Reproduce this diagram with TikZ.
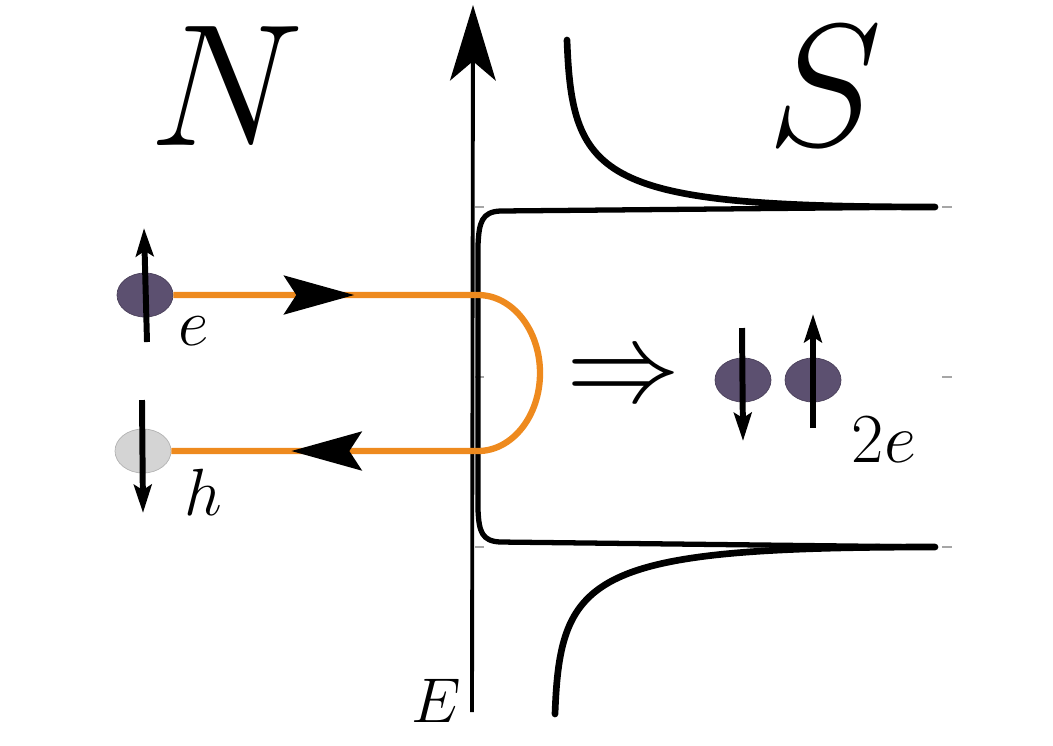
\documentclass[tikz,border=0pt]{standalone}
\usepackage{fix-cm}
\usetikzlibrary{arrows.meta,shapes.geometric,decorations.markings}
\definecolor{pairpurple}{HTML}{5C5070}
\definecolor{holegray}{HTML}{D4D4D4}
\definecolor{andreevorange}{HTML}{EE8A1E}
\tikzset{
  particle/.style={ellipse, minimum width=1.12cm, minimum height=0.88cm, inner sep=0pt},
  spin/.style={line width=3.4pt, -{Stealth[length=16pt,width=10pt,inset=3pt]}},
  bigtip/.tip={Stealth[length=40pt,width=22pt,inset=7pt]},
  dosline/.style={line width=3.8pt, line cap=round},
  tickmark/.style={gray!70, line width=0.6pt},
  lbl/.style={inner sep=0pt}
}
\begin{document}
\begin{tikzpicture}[x=0.02cm, y=-0.02cm]
                    \useasboundingbox (0,0) rectangle (1053,745);
                    % energy axis
                    \coordinate (axbot) at (472,712);
                    \coordinate (axtop) at (473,5);
                    \draw[line width=2.2pt, -{Stealth[length=43pt,width=26pt,inset=11pt]}] (axbot) -- (axtop);
                    \node[lbl] (Elabel) at (436,701) {\fontsize{36}{37}\selectfont $E$};
                    % ticks
                    \foreach \y in {207,377,547} {
                        \draw[tickmark] (475,\y) -- (484,\y);
                        \draw[tickmark] (942,\y) -- (952,\y);
                    }
                    % density of states
                    \draw[dosline] (567,40) .. controls (572,180) and (600,207) .. (935,207);
                    \draw[dosline] (935,547) .. controls (590,547) and (560,574) .. (555,714);
                    \draw[line width=3pt, line cap=round] (935,207) -- (500,211) .. controls (482,212) and (479,222) .. (478,245)
                        -- (478,510) .. controls (479,532) and (482,541) .. (500,542) -- (935,547);
                    % labels
                    \node[lbl] (Nlabel) at (227,86) {\fontsize{99}{100}\selectfont $N$};
                    \node[lbl] (Slabel) at (825,86) {\fontsize{99}{100}\selectfont $S$};
                    % electron and hole
                    \node[particle, fill=pairpurple, draw=pairpurple!80!black] (e) at (145,295) {};
                    \node[particle, fill=holegray, draw=gray!60] (h) at (143,451) {};
                    \coordinate (ein) at (478,295);
                    \draw[andreevorange, line width=3.6pt,
                        postaction={decorate, decoration={markings,
                            mark=at position 3.62cm with {\arrow[black]{bigtip}},
                            mark=at position -2.4cm with {\arrow[black]{bigtip}}}}]
                        (e.east) -- (ein) arc[start angle=-90, end angle=90, x radius=62, y radius=78] -- (h.east);
                    \draw[spin] (147,342) -- (144,228);
                    \draw[spin] (142,400) -- (143,513);
                    \node[lbl] (elabel) at (194,331) {\fontsize{38}{39}\selectfont $e$};
                    \node[lbl] (hlabel) at (203,492) {\fontsize{38}{39}\selectfont $h$};
                    % Cooper pair
                    \node[lbl] (implies) at (624,381) {\fontsize{65}{66}\selectfont $\Rightarrow$};
                    \node[particle, fill=pairpurple, draw=pairpurple!80!black] (pairdown) at (743,380) {};
                    \node[particle, fill=pairpurple, draw=pairpurple!80!black] (pairup) at (813,380) {};
                    \draw[spin] (742,328) -- (743,441);
                    \draw[spin] (813,428) -- (813,314);
                    \node[lbl] (pairlabel) at (884,440) {\fontsize{40}{41}\selectfont $2e$};
                \end{tikzpicture}
\end{document}
